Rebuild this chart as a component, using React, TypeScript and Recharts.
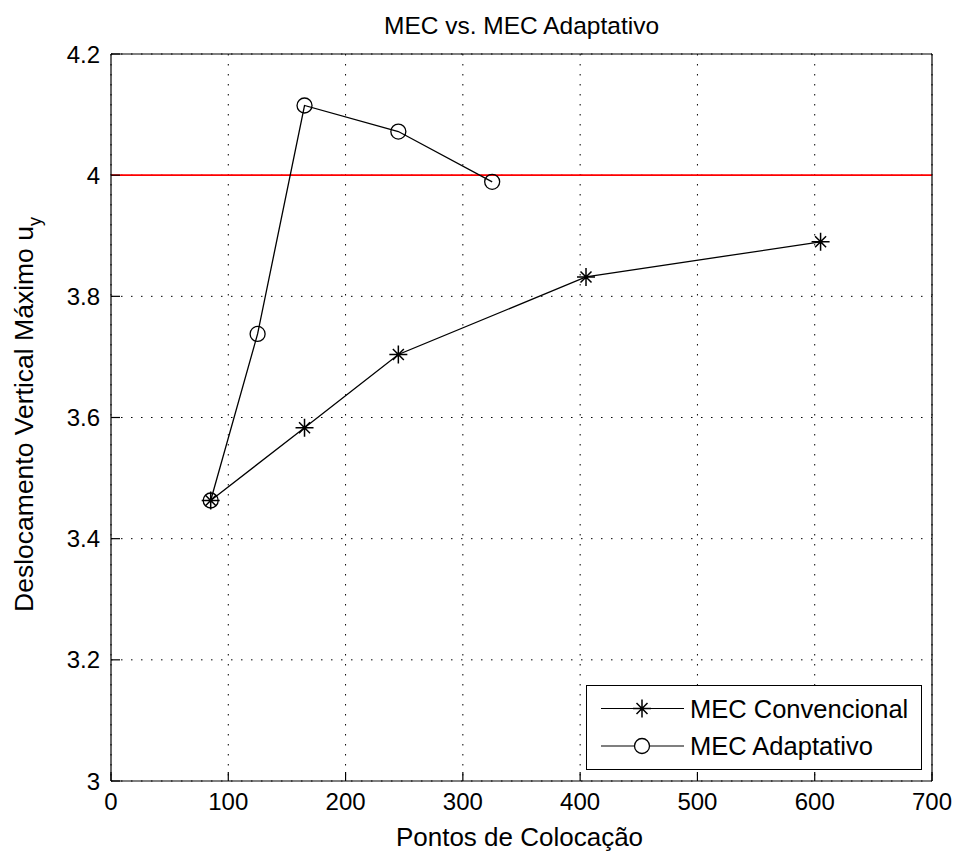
import React from 'react';
import { ComposedChart, Line, XAxis, YAxis, CartesianGrid, ReferenceLine, Legend } from 'recharts';

const convPoints = [85, 165, 245, 405, 605];
const convValues = [3.463, 3.583, 3.704, 3.832, 3.89];
const adaptPoints = [85, 125, 165, 245, 325];
const adaptValues = [3.463, 3.738, 4.115, 4.072, 3.989];
const xTicks = [0, 100, 200, 300, 400, 500, 600, 700];
const yTicks = [3, 3.2, 3.4, 3.6, 3.8, 4, 4.2];
const referenceValue = 4;
const seriesNames = ['MEC Convencional', 'MEC Adaptativo'];
const titleText = 'MEC vs. MEC Adaptativo';
const xLabelText = 'Pontos de Colocação';
const yLabelText = 'Deslocamento Vertical Máximo u';
const yLabelSub = 'y';

const convData = convPoints.map((x, i) => ({ x, y: convValues[i] }));
const adaptData = adaptPoints.map((x, i) => ({ x, y: adaptValues[i] }));

const FONT = '"Liberation Sans", Arial, Helvetica, sans-serif';

const starPath = (cx: number, cy: number) =>
  `M${cx - 9},${cy}H${cx + 9}M${cx},${cy - 9}V${cy + 9}M${cx - 5.5},${cy - 5.5}L${cx + 5.5},${cy + 5.5}M${cx - 5.5},${cy + 5.5}L${cx + 5.5},${cy - 5.5}`;

const StarDot = (props: any) => {
  const { cx, cy, index } = props;
  if (cx == null || cy == null) return <g key={`s${index}`} />;
  return <path key={`s${index}`} d={starPath(cx, cy)} stroke="#000" strokeWidth={1.5} fill="none" />;
};

const CircleDot = (props: any) => {
  const { cx, cy, index } = props;
  if (cx == null || cy == null) return <g key={`c${index}`} />;
  return <circle key={`c${index}`} cx={cx} cy={cy} r={7.5} stroke="#000" strokeWidth={1.3} fill="none" />;
};

const LegendBox = () => (
  <div
    style={{
      width: 336,
      height: 85,
      boxSizing: 'border-box',
      border: '1px solid #000',
      background: '#fff',
    }}
  >
    <svg width={334} height={83} style={{ display: 'block' }}>
      <line x1={14} x2={97} y1={22.5} y2={22.5} stroke="#000" strokeWidth={1.2} />
      <path d={starPath(55, 22.5)} stroke="#000" strokeWidth={1.5} fill="none" />
      <text x={103} y={22.5} dominantBaseline="central" fontSize={25.5} fontFamily={FONT} fill="#000">
        {seriesNames[0]}
      </text>
      <line x1={14} x2={97} y1={60} y2={60} stroke="#000" strokeWidth={1.2} />
      <circle cx={55} cy={60} r={7.5} stroke="#000" strokeWidth={1.3} fill="#fff" />
      <text x={103} y={60} dominantBaseline="central" fontSize={25.5} fontFamily={FONT} fill="#000">
        {seriesNames[1]}
      </text>
    </svg>
  </div>
);

const TitleLabel = (props: any) => {
  const vb = props.viewBox || {};
  return (
    <text
      x={vb.x + vb.width / 2}
      y={vb.y - 19}
      textAnchor="middle"
      fontSize={24.5}
      fontFamily={FONT}
      fill="#000"
    >
      {titleText}
    </text>
  );
};

const XLabel = (props: any) => {
  const vb = props.viewBox || {};
  return (
    <text
      x={vb.x + vb.width / 2 - 2}
      y={vb.y + 65}
      textAnchor="middle"
      fontSize={26}
      fontFamily={FONT}
      fill="#000"
    >
      {xLabelText}
    </text>
  );
};

const YLabel = (props: any) => {
  const vb = props.viewBox || {};
  const cx = vb.x + 33;
  const cy = vb.y + vb.height / 2 - 3;
  return (
    <text
      x={cx}
      y={cy}
      textAnchor="middle"
      fontSize={26.5}
      fontFamily={FONT}
      fill="#000"
      transform={`rotate(-90, ${cx}, ${cy})`}
    >
      {yLabelText}
      <tspan dy={8} fontSize={18}>
        {yLabelSub}
      </tspan>
    </text>
  );
};

export default function App() {
  return (
    <div style={{ position: 'fixed', left: 0, top: 0, width: 956, height: 852, background: '#fff' }}>
      <ComposedChart width={956} height={852} margin={{ top: 53, right: 23, bottom: 0, left: 0 }}>
        <CartesianGrid stroke="#000" strokeDasharray="1.5 8.5" strokeWidth={1} />
        <XAxis
          dataKey="x"
          type="number"
          domain={[0, 700]}
          ticks={xTicks}
          interval={0}
          height={71}
          tickSize={-9}
          tickMargin={21}
          stroke="#000"
          axisLine={{ stroke: '#000', strokeWidth: 1.2 }}
          tickLine={{ stroke: '#000', strokeWidth: 1.2 }}
          tick={{ fontSize: 24, fill: '#000', fontFamily: FONT }}
          label={{ content: XLabel }}
          allowDataOverflow
        />
        <XAxis
          xAxisId="top"
          orientation="top"
          type="number"
          domain={[0, 700]}
          ticks={xTicks}
          interval={0}
          height={1}
          tickSize={-9}
          tick={false}
          axisLine={{ stroke: '#000', strokeWidth: 1.2 }}
          tickLine={{ stroke: '#000', strokeWidth: 1.2 }}
          label={{ content: TitleLabel }}
          allowDataOverflow
        />
        <YAxis
          type="number"
          domain={[3, 4.2]}
          ticks={yTicks}
          interval={0}
          width={111}
          tickSize={-9}
          tickMargin={20}
          axisLine={{ stroke: '#000', strokeWidth: 1.2 }}
          tickLine={{ stroke: '#000', strokeWidth: 1.2 }}
          tick={{ fontSize: 24, fill: '#000', fontFamily: FONT }}
          label={{ content: YLabel }}
          allowDataOverflow
        />
        <YAxis
          yAxisId="right"
          orientation="right"
          type="number"
          domain={[3, 4.2]}
          ticks={yTicks}
          interval={0}
          width={1}
          tickSize={-9}
          tick={false}
          axisLine={{ stroke: '#000', strokeWidth: 1.2 }}
          tickLine={{ stroke: '#000', strokeWidth: 1.2 }}
          allowDataOverflow
        />
        <ReferenceLine y={referenceValue} stroke="#ff0000" strokeWidth={1.6} ifOverflow="extendDomain" />
        <Line
          data={convData}
          dataKey="y"
          name={seriesNames[0]}
          type="linear"
          stroke="#000"
          strokeWidth={1.3}
          dot={StarDot}
          activeDot={false}
          isAnimationActive={false}
        />
        <Line
          data={adaptData}
          dataKey="y"
          name={seriesNames[1]}
          type="linear"
          stroke="#000"
          strokeWidth={1.3}
          dot={CircleDot}
          activeDot={false}
          isAnimationActive={false}
        />
        <Legend
          layout="vertical"
          align="center"
          verticalAlign="middle"
          content={LegendBox}
          wrapperStyle={{ left: 586, top: 685, width: 336, height: 85 }}
        />
      </ComposedChart>
    </div>
  );
}
